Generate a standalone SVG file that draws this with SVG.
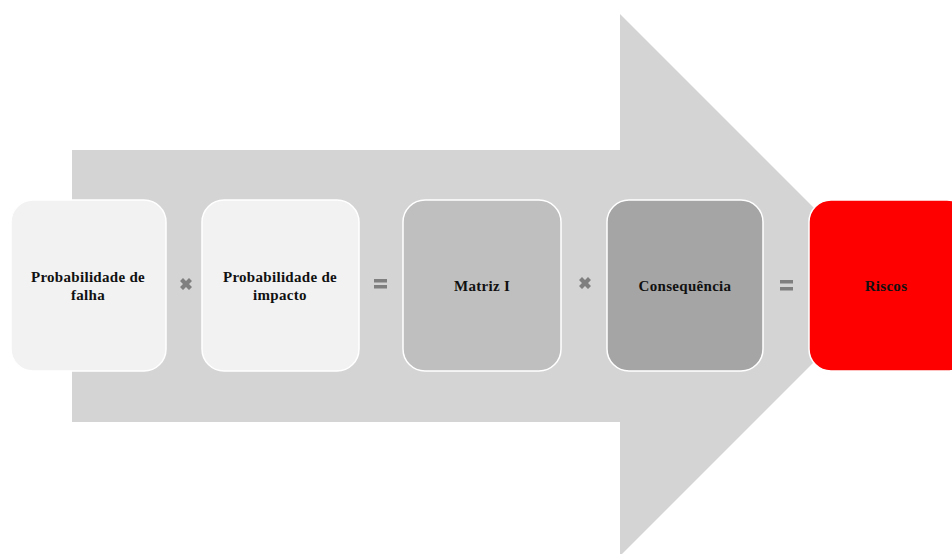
<svg xmlns="http://www.w3.org/2000/svg" width="952" height="554" viewBox="0 0 952 554">
<style>
.box{stroke:#ffffff;stroke-width:1.5}
.lbl{font-family:"Liberation Serif","Times New Roman",serif;font-weight:bold;font-size:15px;fill:#111111;text-anchor:middle;letter-spacing:0.3px}
.op{fill:#7f7f7f}
</style>
<rect width="952" height="554" fill="#ffffff"/>
<g id="arrow">
<polygon points="72,150 620,150 620,14 891,285 620,556 620,422 72,422" fill="#d4d4d4"/>
</g>
<g id="connectors">
<g class="op" transform="translate(186,284)"><path d="M-6,-3 L-3,-6 L0,-3 L3,-6 L6,-3 L3,0 L6,3 L3,6 L0,3 L-3,6 L-6,3 L-3,0 Z"/></g>
<g class="op"><rect x="374" y="279" width="13" height="3.5"/><rect x="374" y="285" width="13" height="3.5"/></g>
<g class="op" transform="translate(585,283)"><path d="M-6,-3 L-3,-6 L0,-3 L3,-6 L6,-3 L3,0 L6,3 L3,6 L0,3 L-3,6 L-6,3 L-3,0 Z"/></g>
<g class="op"><rect x="780" y="280" width="13" height="3.5"/><rect x="780" y="287" width="13" height="3.5"/></g>
</g>
<g id="node1">
<rect class="box" x="11" y="200" width="155" height="171" rx="22" fill="#f2f2f2"/>
<text class="lbl" x="88" y="282">Probabilidade de</text>
<text class="lbl" x="88" y="300">falha</text>
</g>
<g id="node2">
<rect class="box" x="202" y="200" width="157" height="171" rx="22" fill="#f2f2f2"/>
<text class="lbl" x="280" y="282">Probabilidade de</text>
<text class="lbl" x="280" y="300">impacto</text>
</g>
<g id="node3">
<rect class="box" x="403" y="200" width="158" height="171" rx="22" fill="#bfbfbf"/>
<text class="lbl" x="482" y="291">Matriz I</text>
</g>
<g id="node4">
<rect class="box" x="607" y="200" width="156" height="171" rx="22" fill="#a5a5a5"/>
<text class="lbl" x="685" y="291">Consequência</text>
</g>
<g id="node5">
<rect class="box" x="809" y="200" width="160" height="171" rx="22" fill="#ff0000"/>
<text class="lbl" x="886" y="291">Riscos</text>
</g>
</svg>
